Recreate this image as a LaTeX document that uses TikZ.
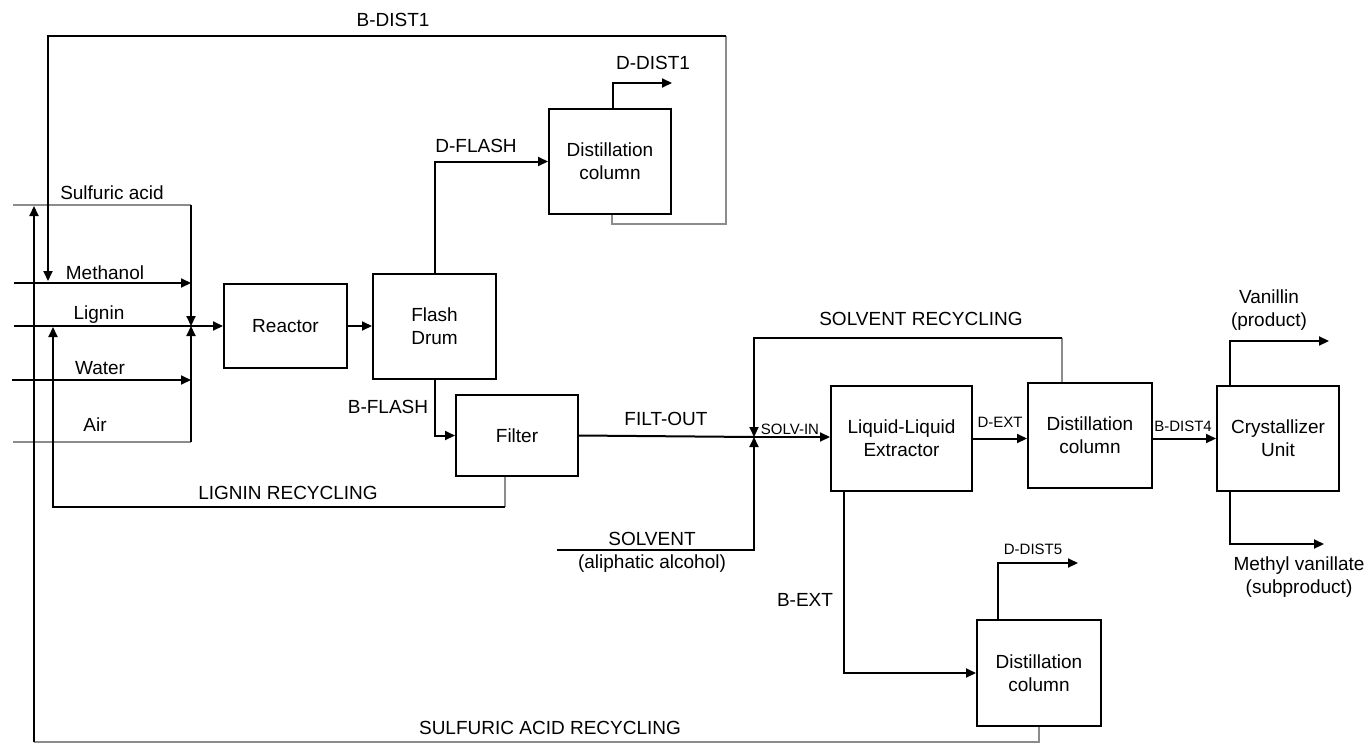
\documentclass[tikz,border=0pt]{standalone}
\usepackage{fontspec}
\setmainfont{Liberation Sans}
\usetikzlibrary{arrows.meta}
\begin{document}
\begin{tikzpicture}[x=1pt,y=-1pt,
  unit/.style={draw, line width=2pt, inner sep=0pt, align=center, font=\fontsize{19}{23}\selectfont},
  lbl/.style={inner sep=0pt, align=center, font=\fontsize{19}{23}\selectfont},
  slbl/.style={inner sep=0pt, font=\fontsize{15}{18}\selectfont},
  flow/.style={line width=2pt, -{Triangle[length=10pt,width=9pt]}},
  solid line/.style={line width=2pt},
  grayline/.style={line width=1.3pt, draw=black!45},
]
\useasboundingbox (0,0) rectangle (1372,744);

% units
\node[unit, minimum width=123pt, minimum height=84pt] (reactor) at (285.5,326) {Reactor};
\node[unit, minimum width=123pt, minimum height=105pt] (flash) at (434.5,326) {Flash\\Drum};
\node[unit, minimum width=122pt, minimum height=105pt] (dist1) at (610,161.5) {Distillation\\column};
\node[unit, minimum width=122pt, minimum height=81pt] (filter) at (517,435.5) {Filter};
\node[unit, minimum width=141pt, minimum height=105pt] (extr) at (901.5,438.5) {Liquid-Liquid\\Extractor};
\node[unit, minimum width=124pt, minimum height=105pt] (dist2) at (1090,435.5) {Distillation\\column};
\node[unit, minimum width=122pt, minimum height=105pt] (cryst) at (1278,438.5) {Crystallizer\\Unit};
\node[unit, minimum width=124pt, minimum height=106pt] (dist3) at (1039,673) {Distillation\\column};

% coordinates
\coordinate (sa0) at (13,205);
\coordinate (mixT) at (191,205);
\coordinate (mixC) at (191,326);
\coordinate (mixB) at (191,442);
\coordinate (me0) at (14,283);
\coordinate (me1) at (191,283);
\coordinate (li0) at (14,326);
\coordinate (wa0) at (12,380);
\coordinate (wa1) at (191,380);
\coordinate (ai0) at (13,442);
\coordinate (dd1a) at (613,83);
\coordinate (dd1) at (672,83);
\coordinate (bd1a) at (612,224);
\coordinate (bd1b) at (726,224);
\coordinate (bd1c) at (726,36);
\coordinate (bd1d) at (48,36);
\coordinate (bd1e) at (48,281);
\coordinate (J) at (754,437);
\coordinate (sv0) at (557,550);
\coordinate (sv1) at (754,550);
\coordinate (sr0) at (1062,338);
\coordinate (sr1) at (754,338);
\coordinate (va) at (1230,341);
\coordinate (vb) at (1329,341);
\coordinate (mv) at (1230,544);
\coordinate (mvb) at (1324,544);
\coordinate (be) at (844,673);
\coordinate (d5a) at (998,563);
\coordinate (d5b) at (1078,563);
\coordinate (sq0) at (1039,742);
\coordinate (sq1) at (34,742);
\coordinate (sq2) at (34,206);
\coordinate (lr0) at (505,507);
\coordinate (lr1) at (53,507);
\coordinate (lr2) at (53,327);

% feed lines
\draw[grayline] (sa0) -- (mixT);
\draw[flow] (mixT) -- (mixC);
\draw[flow] (me0) -- (me1);
\draw[flow] (li0) -- (reactor.west);
\draw[flow] (wa0) -- (wa1);
\draw[grayline] (ai0) -- (mixB);
\draw[flow] (mixB) -- (mixC);

% main flows
\draw[flow] (reactor.east) -- (flash.west);
\draw[flow] (flash.north) -- (flash.north |- dist1.west) -- (dist1.west);
\draw[flow] (dist1.north -| dd1a) -- (dd1a) -- (dd1);
\draw[grayline] (dist1.south -| bd1a) -- (bd1a) -- (bd1b) -- (bd1c);
\draw[flow] (bd1c) -- (bd1d) -- (bd1e);
\draw[flow] (flash.south) -- (flash.south |- filter.west) -- (filter.west);
\draw[solid line] (filter.east) -- (J);
\draw[flow] (J) -- (extr.west |- J);
\draw[flow] (sv0) -- (sv1) -- (J);
\draw[grayline] (dist2.north -| sr0) -- (sr0);
\draw[flow] (sr0) -- (sr1) -- (J);
\draw[flow] (extr.east) -- (dist2.west |- extr.east);
\draw[flow] (dist2.east |- cryst.west) -- (cryst.west);
\draw[flow] (cryst.north -| va) -- (va) -- (vb);
\draw[flow] (cryst.south -| mv) -- (mv) -- (mvb);
\draw[flow] (extr.south -| be) -- (be) -- (dist3.west);
\draw[flow] (dist3.north -| d5a) -- (d5a) -- (d5b);
\draw[grayline] (dist3.south) -- (sq0) -- (sq1);
\draw[flow] (sq1) -- (sq2);
\draw[grayline] (filter.south -| lr0) -- (lr0);
\draw[flow] (lr0) -- (lr1) -- (lr2);

% labels
\node[lbl] (tB1) at (393,20) {B-DIST1};
\node[lbl] (tD1) at (653,63) {D-DIST1};
\node[lbl] (tDF) at (476,146) {D-FLASH};
\node[lbl] (tSA) at (112,193) {Sulfuric acid};
\node[lbl] (tME) at (105,273) {Methanol};
\node[lbl] (tLI) at (99,315) {Lignin};
\node[lbl] (tWA) at (100,368) {Water};
\node[lbl] (tAI) at (95,425) {Air};
\node[lbl] (tBF) at (388,407) {B-FLASH};
\node[lbl] (tFO) at (666,419) {FILT-OUT};
\node[slbl] (tSI) at (790,429) {SOLV-IN};
\node[lbl] (tSV) at (652,552.5) {SOLVENT\\(aliphatic alcohol)};
\node[lbl] (tSR) at (921,319) {SOLVENT RECYCLING};
\node[lbl] (tLR) at (288,493) {LIGNIN RECYCLING};
\node[slbl] (tDE) at (1000,422) {D-EXT};
\node[slbl] (tB4) at (1183,426) {B-DIST4};
\node[lbl] (tVA) at (1269,310.5) {Vanillin\\(product)};
\node[lbl] (tMV) at (1299,577.5) {Methyl vanillate\\(subproduct)};
\node[lbl] (tBE) at (805,600) {B-EXT};
\node[slbl] (tD5) at (1033,549) {D-DIST5};
\node[lbl] (tSQ) at (550,728) {SULFURIC ACID RECYCLING};
\end{tikzpicture}
\end{document}
